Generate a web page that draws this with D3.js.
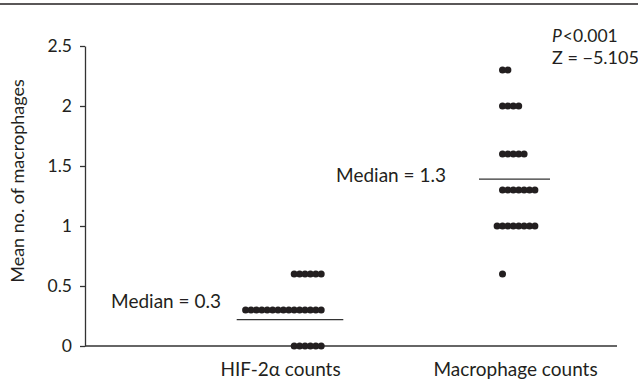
<!DOCTYPE html>
<html>
<head>
<meta charset="UTF-8">
<script src="https://d3js.org/d3.v7.min.js"></script>
<style>
  body { margin: 0; background: #fff; }
  svg { display: block; font-family: Lato, "Open Sans", sans-serif; }
</style>
</head>
<body>
<svg id="chart" width="638" height="385"></svg>
<script>
// data
var groups = ["HIF-2α counts", "Macrophage counts"];
var hifValues = [0.6, 0.6, 0.6, 0.6, 0.6, 0.6,
  0.3, 0.3, 0.3, 0.3, 0.3, 0.3, 0.3, 0.3, 0.3, 0.3, 0.3, 0.3, 0.3, 0.3, 0.3,
  0, 0, 0, 0, 0, 0];
var macroValues = [2.3, 2.3,
  2.0, 2.0, 2.0, 2.0,
  1.6, 1.6, 1.6, 1.6, 1.6,
  1.3, 1.3, 1.3, 1.3, 1.3, 1.3, 1.3,
  1.0, 1.0, 1.0, 1.0, 1.0, 1.0, 1.0, 1.0,
  0.6];
var medianLines = [0.22, 1.39];
var medianLabels = ["Median = 0.3", "Median = 1.3"];
var yTicks = [0, 0.5, 1, 1.5, 2, 2.5];
var statLines = ["<0.001", "Z = \u22125.105"];

var svg = d3.select("#chart");
var ink = "#231f20";
var margin = {top: 46, left: 85, right: 21, bottom: 39};
var W = 638, H = 385;

var y = d3.scaleLinear().domain([0, 2.5]).range([H - margin.bottom, margin.top]);
var x = d3.scalePoint().domain(groups).range([280, 515]);

// layout of the dot columns (where each group's stack starts, how many go right)
var dotR = 3.5, dotStep = 5.4;
var layout = {};
layout[groups[0]] = {dx: 14.2, maxRight: 6, lineHalf: 53.3, lineDx: 10, labelEnd: 221, labelY: 0.318};
layout[groups[1]] = {dx: -12.5, maxRight: 7, lineHalf: 35.5, lineDx: -0.5, labelEnd: 446, labelY: 1.364};

// top rule
svg.append("line")
  .attr("x1", 0).attr("x2", W).attr("y1", 4).attr("y2", 4)
  .attr("stroke", ink).attr("stroke-width", 1.5);

// y axis
var yAxis = svg.append("g")
  .attr("transform", "translate(" + margin.left + ",0)")
  .call(d3.axisLeft(y).tickValues(yTicks).tickFormat(d => String(d))
    .tickSize(5).tickSizeOuter(0).tickPadding(8));
yAxis.selectAll("path, line").attr("stroke", "#333").attr("stroke-width", 1.3);
yAxis.selectAll("text").attr("font-size", 17.5).attr("fill", ink).attr("font-family", "Lato");

// x axis line and labels
svg.append("line")
  .attr("x1", margin.left).attr("x2", W - margin.right)
  .attr("y1", y(0)).attr("y2", y(0))
  .attr("stroke", "#333").attr("stroke-width", 1.3);
var xAxis = svg.append("g")
  .attr("transform", "translate(0," + y(0) + ")")
  .call(d3.axisBottom(x).tickSize(0).tickPadding(17));
xAxis.select(".domain").remove();
xAxis.selectAll("text").attr("font-size", 19).attr("fill", ink).attr("font-family", "Lato");

// axis title
svg.append("text")
  .attr("transform", "translate(24,181) rotate(-90)")
  .attr("text-anchor", "middle")
  .attr("font-size", 18).attr("fill", ink)
  .text("Mean no. of macrophages");

// dots
function placeDots(group, values) {
  var L = layout[group];
  var seen = {};
  return values.map(function(v) {
    var k = seen[v] || 0;
    seen[v] = k + 1;
    var col = k < L.maxRight ? k : -(k - L.maxRight + 1);
    return {value: v, cx: x(group) + L.dx + col * dotStep};
  });
}
var dots = placeDots(groups[0], hifValues).concat(placeDots(groups[1], macroValues));
svg.append("g").selectAll("circle")
  .data(dots)
  .join("circle")
  .attr("cx", d => d.cx)
  .attr("cy", d => y(d.value))
  .attr("r", dotR)
  .attr("fill", ink);

// median lines and labels
groups.forEach(function(g, i) {
  var L = layout[g];
  var cx = x(g) + L.lineDx;
  svg.append("line")
    .attr("x1", cx - L.lineHalf).attr("x2", cx + L.lineHalf)
    .attr("y1", y(medianLines[i])).attr("y2", y(medianLines[i]))
    .attr("stroke", "#333").attr("stroke-width", 1.3);
  svg.append("text")
    .attr("x", L.labelEnd).attr("y", y(L.labelY))
    .attr("text-anchor", "end")
    .attr("font-size", 19).attr("fill", ink)
    .text(medianLabels[i]);
});

// statistics
var st = svg.append("text").attr("x", 552).attr("y", 42).attr("font-size", 17.5).attr("fill", ink);
st.append("tspan").attr("font-style", "italic").text("P");
st.append("tspan").attr("dx", 1).text(statLines[0]);
svg.append("text").attr("x", 552).attr("y", 63.5).attr("font-size", 18).attr("fill", ink)
  .text(statLines[1]);
</script>
</body>
</html>
